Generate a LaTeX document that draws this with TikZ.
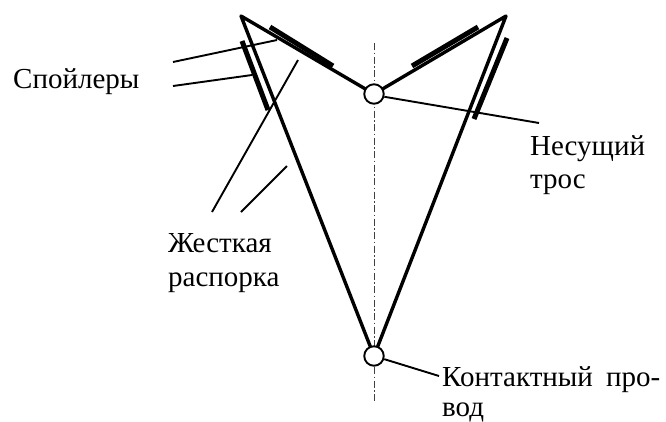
\documentclass[tikz,border=0pt]{standalone}
\usepackage{fontspec}
\setmainfont{Liberation Serif}
\tikzset{
 strut/.style={line width=3.4pt},
 spoiler/.style={line width=5pt},
 leader/.style={line width=1.9pt},
 axis/.style={line width=0.9pt,draw=black!75,dash pattern=on 7pt off 2.5pt on 1.5pt off 2.5pt},
 ring/.style={circle,draw,line width=1.9pt,fill=white,minimum size=19.5pt,inner sep=0pt},
 lab/.style={inner sep=0pt,anchor=base west,align=left,font=\fontsize{29}{33}\selectfont}
}
\begin{document}
\begin{tikzpicture}[x=1pt,y=-1pt]
\useasboundingbox (0,0) rectangle (666,421);
\coordinate (axT) at (374,43); \coordinate (axB) at (374,401);
\draw[axis] (axT) -- (axB);
\coordinate (L) at (241,16); \coordinate (R) at (506,16);
\coordinate (CT) at (374,94); \coordinate (CB) at (374,356);
\draw[strut,line join=round] (CT) -- (L) -- (CB) -- (R) -- cycle;
\coordinate (s1a) at (270,27); \coordinate (s1b) at (333,66);
\coordinate (s2a) at (242,41); \coordinate (s2b) at (268,110);
\coordinate (s3a) at (412,66); \coordinate (s3b) at (478,27);
\coordinate (s4a) at (507,38); \coordinate (s4b) at (474,119);
\draw[spoiler] (s1a) -- (s1b);
\draw[spoiler] (s2a) -- (s2b);
\draw[spoiler] (s3a) -- (s3b);
\draw[spoiler] (s4a) -- (s4b);
\node[ring] (top) at (CT) {};
\node[ring] (bot) at (CB) {};
\node[lab] (sp) at (13,88) {Спойлеры};
\node[lab] (ns) at (530,155) {Несущий};
\node[lab] (tr) at (530,188) {трос};
\node[lab] (zh) at (168,252) {Жесткая};
\node[lab] (ra) at (168,286) {распорка};
\node[lab] (ko) at (442,386) {Контактный\hspace{6pt} про-};
\node[lab] (vo) at (442,416) {вод};
\coordinate (a1) at (173,62); \coordinate (a2) at (277,40);
\coordinate (b1) at (173,86); \coordinate (b2) at (252,75);
\coordinate (c1) at (298,60); \coordinate (c2) at (212,212);
\coordinate (d1) at (287,166); \coordinate (d2) at (241,212);
\coordinate (e2) at (539,123); \coordinate (f2) at (439,376);
\draw[leader] (a1) -- (a2);
\draw[leader] (b1) -- (b2);
\draw[leader] (c1) -- (c2);
\draw[leader] (d1) -- (d2);
\draw[leader] (top.-15) -- (e2);
\draw[leader] (bot.-17) -- (f2);
\end{tikzpicture}
\end{document}
